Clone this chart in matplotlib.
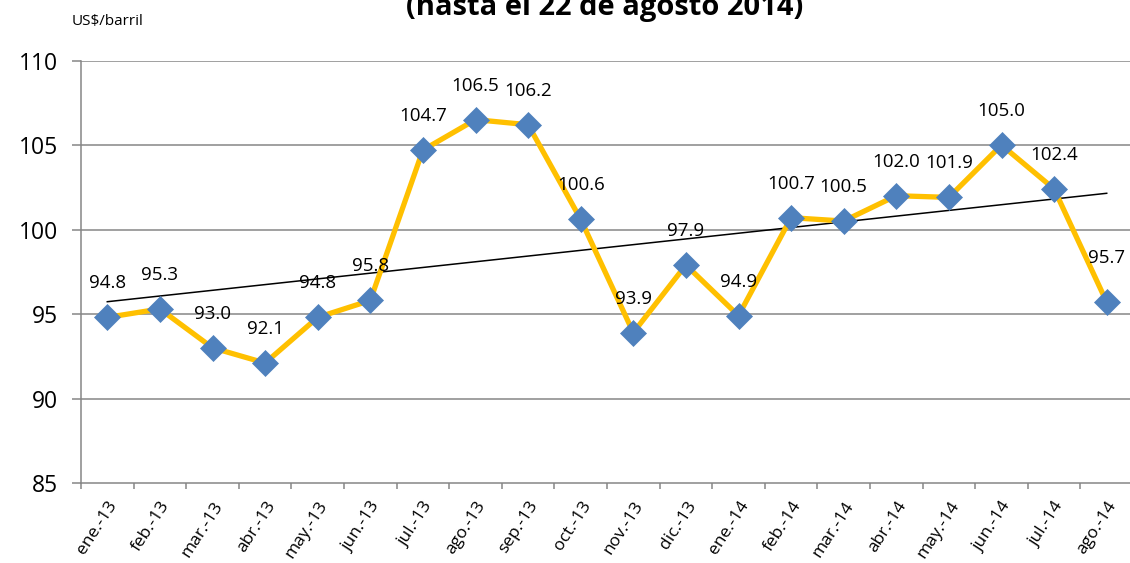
import numpy as np
import matplotlib
matplotlib.use("Agg")
import matplotlib.pyplot as plt

# Precio mensual del petróleo (US$/barril)
months = ["ene.-13", "feb.-13", "mar.-13", "abr.-13", "may.-13", "jun.-13",
          "jul.-13", "ago.-13", "sep.-13", "oct.-13", "nov.-13", "dic.-13",
          "ene.-14", "feb.-14", "mar.-14", "abr.-14", "may.-14", "jun.-14",
          "jul.-14", "ago.-14"]
prices = [94.8, 95.3, 93.0, 92.1, 94.8, 95.8, 104.7, 106.5, 106.2, 100.6,
          93.9, 97.9, 94.9, 100.7, 100.5, 102.0, 101.9, 105.0, 102.4, 95.7]
y_ticks = [85, 90, 95, 100, 105, 110]

plt.rcParams['font.family'] = ['Open Sans', 'DejaVu Sans']

W, H = 1130, 563
fig = plt.figure(figsize=(W / 100, H / 100), dpi=100)
ax = fig.add_axes([81 / W, 1 - 483 / H, (1133 - 81) / W, (483 - 60.5) / H])

x = np.arange(len(prices))
grid_col = '#868686'

for yv in y_ticks[1:]:
    ax.axhline(yv, color=grid_col, lw=1.1, zorder=1)

# linea de tendencia (regresion lineal)
slope, inter = np.polyfit(x, prices, 1)
ax.plot(x, slope * x + inter, color='black', lw=1.1, zorder=2)

ax.plot(x, prices, color='#FFC000', lw=3.8, zorder=3,
        marker='D', markersize=13.5, markerfacecolor='#4F81BD',
        markeredgecolor='#4F81BD', markeredgewidth=0.5)

for i, v in enumerate(prices):
    off = 32 if i == len(prices) - 1 else 24.5
    ax.annotate(f"{v:.1f}", (i, v), xytext=(0, off), textcoords='offset points',
                ha='center', va='center', fontsize=13.5, zorder=4)

ax.set_xlim(-0.5, len(prices) - 0.5)
ax.set_ylim(85, 110)
ax.set_yticks(y_ticks)
ax.set_yticklabels([str(t) for t in y_ticks], fontsize=16.5)
ax.tick_params(axis='y', length=6.5, width=1.1, color=grid_col, pad=10)

ax.set_xticks(x)
ax.set_xticklabels(months, rotation=57, ha='right', rotation_mode='anchor',
                   fontsize=12.5)
ax.set_xticks(np.arange(-0.5, len(prices)), minor=True)
ax.tick_params(axis='x', which='major', length=0, pad=11)
ax.tick_params(axis='x', which='minor', length=4.5, width=1.1, color=grid_col)

for s in ['top', 'right']:
    ax.spines[s].set_visible(False)
for s in ['left', 'bottom']:
    ax.spines[s].set_color(grid_col)
    ax.spines[s].set_linewidth(1.1)

fig.text(72 / W, 1 - 21 / H, "US$/barril", fontsize=11, ha='left', va='center')
fig.text(605 / W, 1 - 15 / H, "(hasta el 22 de agosto 2014)", fontsize=21,
         fontweight='bold', ha='center', va='baseline')

fig.savefig("out.png", dpi=100)
